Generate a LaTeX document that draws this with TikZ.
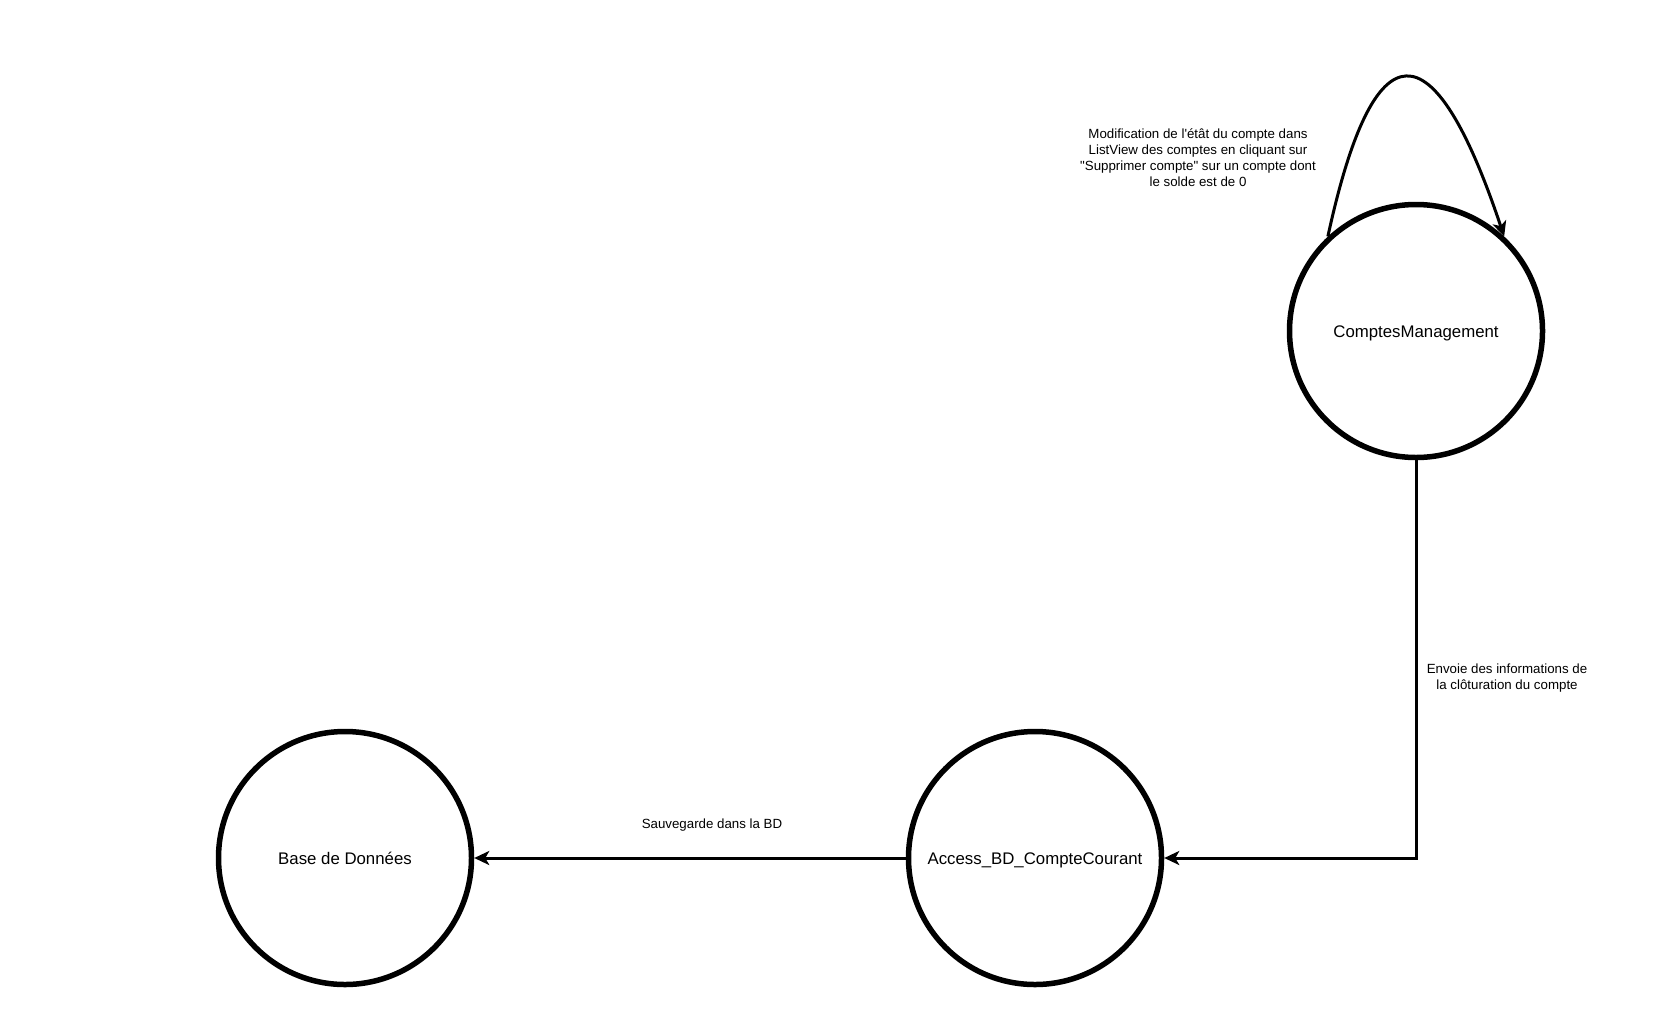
\documentclass[tikz,border=0pt]{standalone}
\usepackage{fontspec}
\setmainfont{Liberation Sans}[Ligatures=TeXOff]
\usetikzlibrary{arrows.meta}
\begin{document}
\begin{tikzpicture}[x=1pt,y=-1pt,
  state/.style={circle,draw,line width=5.5pt,minimum size=253pt,inner sep=0pt,
    text height=15pt,text depth=3pt,font=\fontsize{16.8}{19}\selectfont},
  flow/.style={line width=3pt,-{Stealth[length=15pt,width=14pt,inset=4pt]}},
  lab/.style={align=center,inner sep=0pt,font=\fontsize{13.3}{16}\selectfont}]
\useasboundingbox (0,0) rectangle (1677,1012);
\node[state] (cm) at (1416,331) {ComptesManagement};
\node[state] (acc) at (1035,858) {Access\_BD\_CompteCourant};
\node[state] (bd) at (345,858) {Base de Données};
\draw[flow] (cm.133.5) .. controls (1374,24) and (1433,24) .. (cm.47.2);
\draw[flow] (cm.south) |- (acc.east);
\draw[flow] (acc.west) -- (bd.east);
\node[lab] (l1) at (1198,158) {Modification de l'étât du compte dans\\ListView des comptes en cliquant sur\\"Supprimer compte" sur un compte dont\\le solde est de 0};
\node[lab] (l2) at (1507,678) {Envoie des informations de\\la clôturation du compte};
\node[lab] (l3) at (712,825) {Sauvegarde dans la BD};
\end{tikzpicture}
\end{document}
